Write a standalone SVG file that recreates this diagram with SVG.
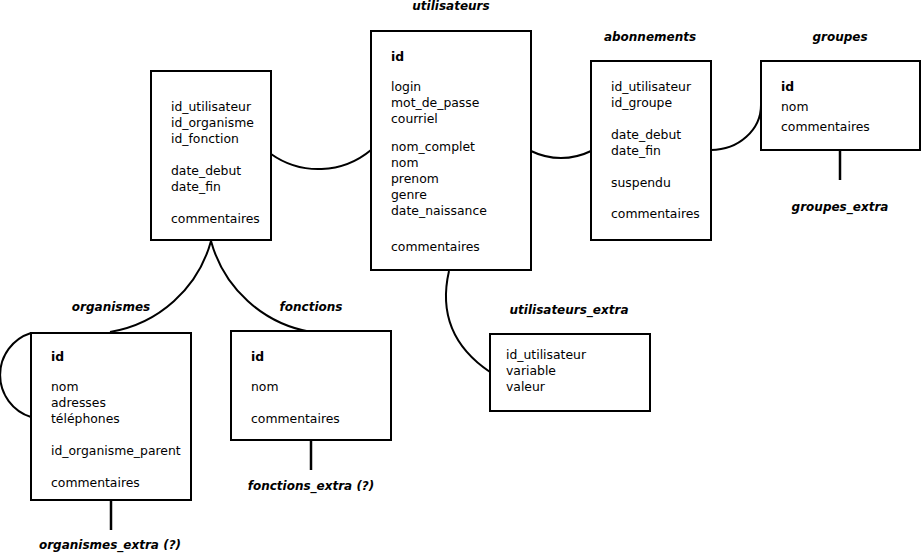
<svg xmlns="http://www.w3.org/2000/svg" width="921" height="559" viewBox="0 0 921 559">
<style>
.box{fill:#fff;stroke:#000;stroke-width:2}
.f{font-family:"DejaVu Sans",Verdana,sans-serif;font-size:12.4px;fill:#000}
.b{font-weight:bold}
.t{font-family:"DejaVu Sans",Verdana,sans-serif;font-size:12px;font-weight:bold;font-style:italic;fill:#000;text-anchor:middle}
.c{fill:none;stroke:#000;stroke-width:2}
.s{fill:none;stroke:#000;stroke-width:2.5}
</style>
<rect width="921" height="559" fill="#fff"/>
<g id="connectors">
<path class="c" d="M271,154 A82,82 0 0 0 371,150"/>
<path class="c" d="M531,151 A68,68 0 0 0 591,151"/>
<path class="c" d="M711,150 A50,45 0 0 0 761,105"/>
<path class="c" d="M449,271 C440,310 450,345 490,372"/>
<path class="c" d="M211,241 A126,126 0 0 1 110,332"/>
<path class="c" d="M211,241 A126,126 0 0 0 311,332"/>
<path class="c" d="M31,333 A44,44 0 0 0 31,417"/>
<line class="s" x1="840" y1="151" x2="840" y2="180"/>
<line class="s" x1="311" y1="441" x2="311" y2="470"/>
<line class="s" x1="111" y1="501" x2="111" y2="530"/>
</g>
<g id="liaison">
<rect class="box" x="151" y="71" width="120" height="169"/>
<text class="f" x="171" y="110.5">id_utilisateur</text>
<text class="f" x="171" y="126.5">id_organisme</text>
<text class="f" x="171" y="142.5">id_fonction</text>
<text class="f" x="171" y="174.5">date_debut</text>
<text class="f" x="171" y="190.5">date_fin</text>
<text class="f" x="171" y="222.5">commentaires</text>
</g>
<g id="utilisateurs">
<text class="t" x="451" y="10">utilisateurs</text>
<rect class="box" x="371" y="31" width="160" height="239"/>
<text class="f b" x="391" y="61">id</text>
<text class="f" x="391" y="91">login</text>
<text class="f" x="391" y="107">mot_de_passe</text>
<text class="f" x="391" y="123">courriel</text>
<text class="f" x="391" y="151">nom_complet</text>
<text class="f" x="391" y="167">nom</text>
<text class="f" x="391" y="183">prenom</text>
<text class="f" x="391" y="199">genre</text>
<text class="f" x="391" y="215">date_naissance</text>
<text class="f" x="391" y="251">commentaires</text>
</g>
<g id="abonnements">
<text class="t" x="650" y="41">abonnements</text>
<rect class="box" x="591" y="61" width="120" height="179"/>
<text class="f" x="611" y="91">id_utilisateur</text>
<text class="f" x="611" y="107">id_groupe</text>
<text class="f" x="611" y="139">date_debut</text>
<text class="f" x="611" y="155">date_fin</text>
<text class="f" x="611" y="187">suspendu</text>
<text class="f" x="611" y="218">commentaires</text>
</g>
<g id="groupes">
<text class="t" x="840" y="41">groupes</text>
<rect class="box" x="761" y="61" width="159" height="89"/>
<text class="f b" x="781" y="91">id</text>
<text class="f" x="781" y="111">nom</text>
<text class="f" x="781" y="131">commentaires</text>
</g>
<g id="groupes_extra">
<text class="t" x="840" y="211">groupes_extra</text>
</g>
<g id="utilisateurs_extra">
<text class="t" x="569" y="314">utilisateurs_extra</text>
<rect class="box" x="490" y="334" width="160" height="77"/>
<text class="f" x="506" y="359">id_utilisateur</text>
<text class="f" x="506" y="375">variable</text>
<text class="f" x="506" y="391">valeur</text>
</g>
<g id="organismes">
<text class="t" x="111" y="311">organismes</text>
<rect class="box" x="31" y="333" width="160" height="167"/>
<text class="f b" x="51" y="361">id</text>
<text class="f" x="51" y="391">nom</text>
<text class="f" x="51" y="407">adresses</text>
<text class="f" x="51" y="423">téléphones</text>
<text class="f" x="51" y="455">id_organisme_parent</text>
<text class="f" x="51" y="487">commentaires</text>
</g>
<g id="organismes_extra">
<text class="t" x="110" y="549">organismes_extra (?)</text>
</g>
<g id="fonctions">
<text class="t" x="311" y="311">fonctions</text>
<rect class="box" x="231" y="331" width="160" height="109"/>
<text class="f b" x="251" y="361">id</text>
<text class="f" x="251" y="391">nom</text>
<text class="f" x="251" y="423">commentaires</text>
</g>
<g id="fonctions_extra">
<text class="t" x="311" y="490">fonctions_extra (?)</text>
</g>
</svg>
